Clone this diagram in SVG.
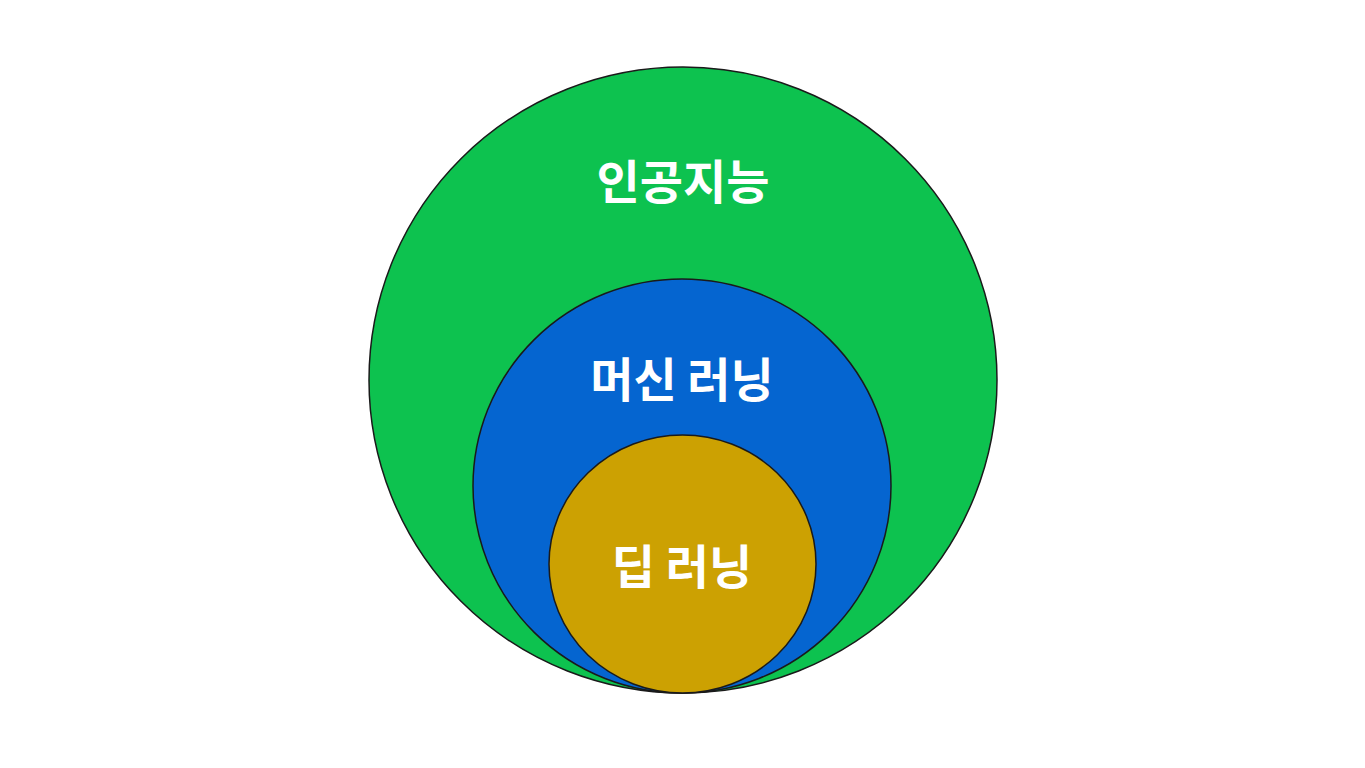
<svg xmlns="http://www.w3.org/2000/svg" width="1365" height="768" viewBox="0 0 1365 768">
<style>
.c{stroke:#1a1a1a;stroke-width:1.5}
.t{font-family:"Noto Sans CJK KR","Noto Sans",sans-serif;font-weight:bold;font-size:47px;fill:#fff;text-anchor:middle}
</style>
<rect width="1365" height="768" fill="#fff"/>
<g id="ai"><ellipse class="c" cx="683" cy="380" rx="314" ry="313" fill="#0DC24F"/><text class="t" x="683" y="199">인공지능</text></g>
<g id="ml"><ellipse class="c" cx="682" cy="486" rx="209" ry="207" fill="#0565D0"/><text class="t" x="682" y="397">머신 러닝</text></g>
<g id="dl"><ellipse class="c" cx="682.5" cy="564" rx="133.5" ry="129" fill="#CCA102"/><text class="t" x="682" y="584">딥 러닝</text></g>
<g id="connectors"/>
</svg>
